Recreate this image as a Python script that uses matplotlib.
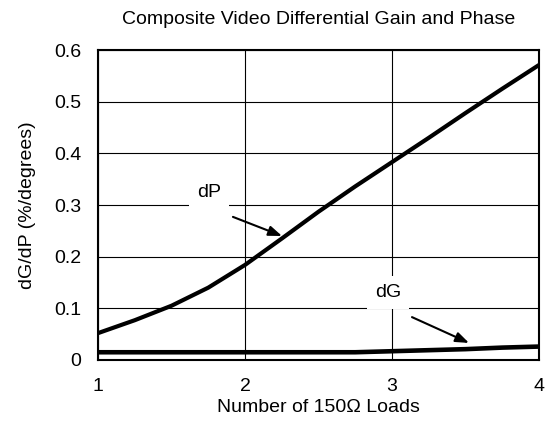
import numpy as np
import matplotlib
matplotlib.use("Agg")
import matplotlib.pyplot as plt

plt.rcParams["font.family"] = ["Liberation Sans", "DejaVu Sans"]

# Dados
cargas = [1.0, 1.25, 1.5, 1.75, 2.0, 2.25, 2.5, 2.75, 3.0, 3.25, 3.5, 3.75, 4.0]
dP = [0.052, 0.077, 0.105, 0.140, 0.184, 0.235, 0.287, 0.336, 0.383, 0.430, 0.478, 0.525, 0.571]
dG = [0.015, 0.015, 0.015, 0.015, 0.015, 0.015, 0.015, 0.015, 0.017, 0.019, 0.021, 0.024, 0.026]

x_ticks = [1, 2, 3, 4]
y_ticks = [0, 0.1, 0.2, 0.3, 0.4, 0.5, 0.6]
y_labels = ["0", "0.1", "0.2", "0.3", "0.4", "0.5", "0.6"]

FS = 14

fig = plt.figure(figsize=(5.5, 4.32), dpi=100)
ax = fig.add_axes([98 / 550, 72 / 432, 441 / 550, 310 / 432])

ax.plot(cargas, dP, color="black", lw=3.0, solid_capstyle="butt", zorder=3)
ax.plot(cargas, dG, color="black", lw=3.3, solid_capstyle="butt", zorder=3)

ax.set_xlim(1, 4)
ax.set_ylim(0, 0.6)
ax.set_xticks(x_ticks)
ax.set_yticks(y_ticks)
ax.set_yticklabels(y_labels)
ax.tick_params(length=0, labelsize=FS)
ax.tick_params(axis="x", pad=13)
ax.tick_params(axis="y", pad=12)
ax.grid(color="black", lw=0.8)
for s in ax.spines.values():
    s.set_linewidth(1.5)

# rótulos com fundo branco cobrindo a grade
caixa = dict(boxstyle="square,pad=0.4", fc="white", ec="none")
ax.text(1.755, 0.325, "dP", fontsize=FS, ha="center", va="center", bbox=caixa, zorder=4)
ax.text(2.973, 0.131, "dG", fontsize=FS, ha="center", va="center", bbox=caixa, zorder=4)

seta = dict(arrowstyle="-|>,head_length=0.8,head_width=0.3", color="black", lw=1.5,
            shrinkA=0, shrinkB=0)
ax.annotate("", xy=(2.252, 0.240), xytext=(1.918, 0.277), arrowprops=seta, zorder=4)
ax.annotate("", xy=(3.524, 0.033), xytext=(3.136, 0.083), arrowprops=seta, zorder=4)

ax.set_xlabel("Number of 150\u03a9 Loads", fontsize=FS, labelpad=3)
ax.set_ylabel("dG/dP (%/degrees)", fontsize=FS, labelpad=13)
ax.set_title("Composite Video Differential Gain and Phase", fontsize=FS, pad=19)

fig.savefig("out.png", dpi=100)
